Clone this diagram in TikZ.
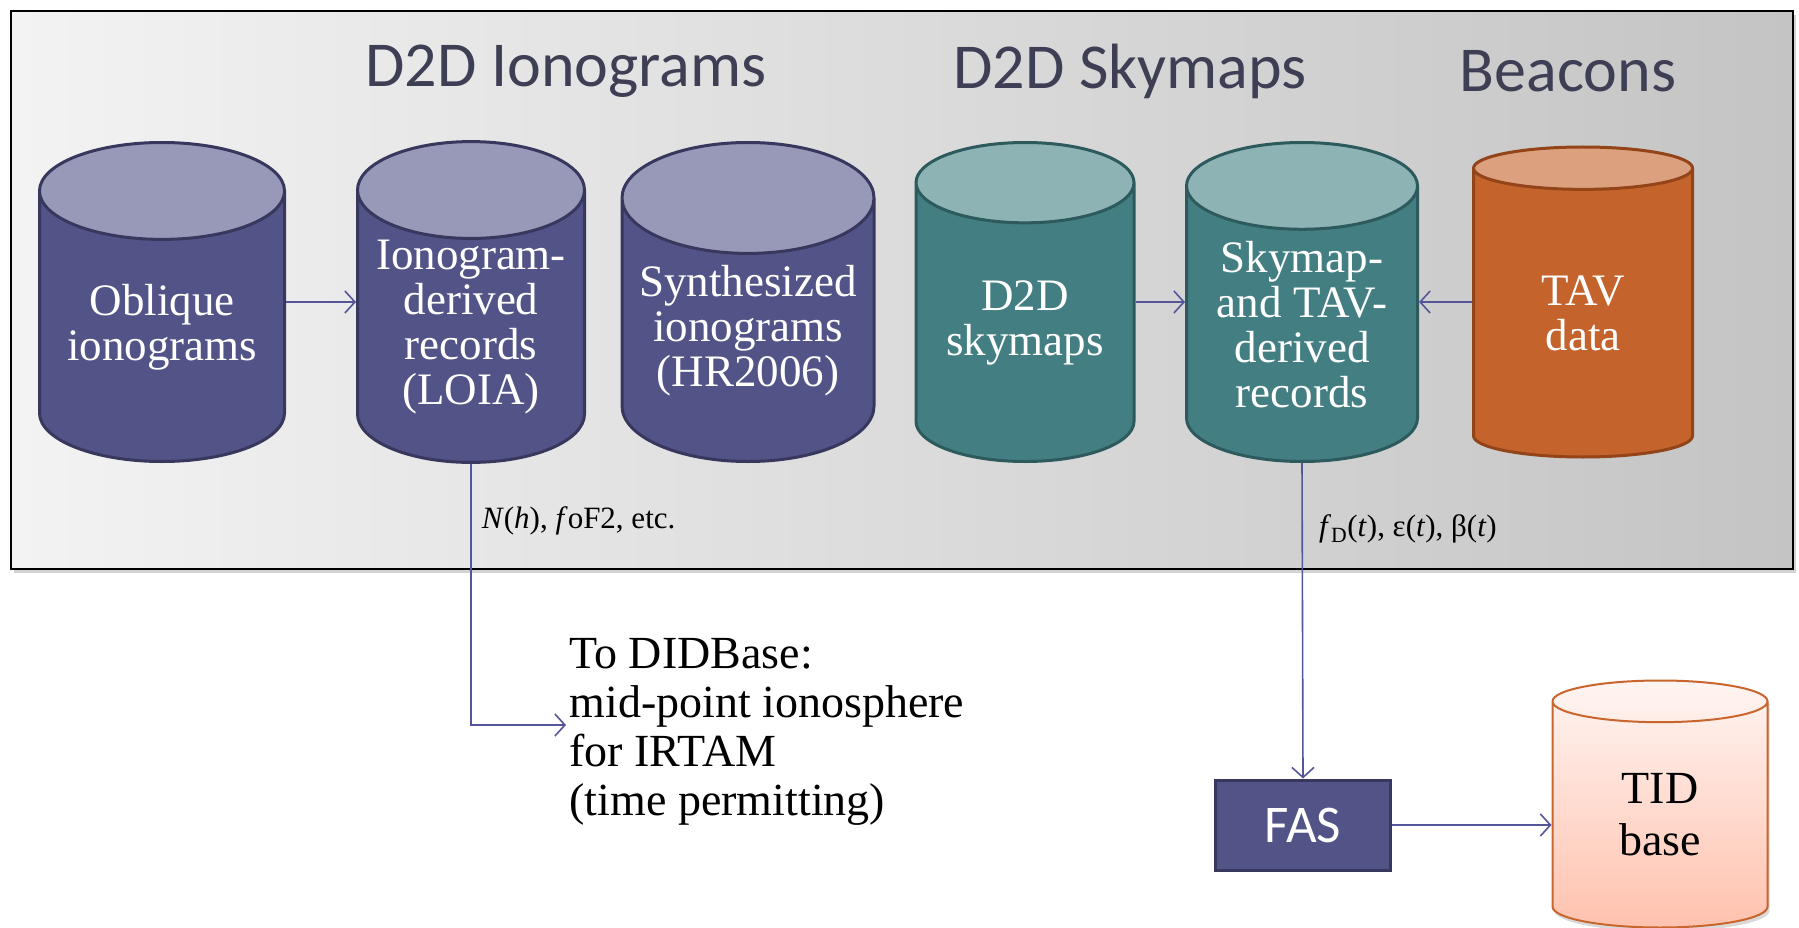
\documentclass[tikz,border=0pt]{standalone}
\usepackage{fontspec}
\setmainfont{Liberation Serif}
\newfontfamily\ttlfont{Carlito}
\usepackage{tikz}
\usetikzlibrary{arrows.meta,positioning,shapes.geometric,shadows}
\definecolor{pnlL}{HTML}{F3F3F3}
\definecolor{pnlR}{HTML}{C4C4C4}
\definecolor{ttlclr}{HTML}{3E3E54}
\definecolor{purpbody}{HTML}{525387}
\definecolor{purptop}{HTML}{9898B8}
\definecolor{purpline}{HTML}{38385E}
\definecolor{tealbody}{HTML}{437E82}
\definecolor{tealtop}{HTML}{8EB3B5}
\definecolor{tealline}{HTML}{2D5A5D}
\definecolor{orngbody}{HTML}{C4632C}
\definecolor{orngtop}{HTML}{DDA07F}
\definecolor{orngline}{HTML}{934419}
\definecolor{tidtop}{HTML}{FFF5F2}
\definecolor{tidbot}{HTML}{FFC2AE}
\definecolor{tidline}{HTML}{C9662E}
\definecolor{arrclr}{HTML}{55559A}

\begin{document}
\begin{tikzpicture}[
  x=1pt,y=-1pt,
  panel/.style={draw=black,line width=2pt,left color=pnlL,right color=pnlR,
    minimum width=1782pt,minimum height=557pt,inner sep=0pt,
    drop shadow={shadow xshift=3pt,shadow yshift=-4pt,opacity=.35}},
  ttl/.style={font=\ttlfont\fontsize{64}{70}\selectfont,text=ttlclr},
  db/.style={cylinder,shape border rotate=90,aspect=0.51,line width=3pt,
    cylinder uses custom fill,minimum height=319pt,inner sep=0pt,anchor=shape center,
    text=white,align=center,font=\fontsize{45}{45}\selectfont},
  purp/.style={db,draw=purpline,cylinder body fill=purpbody,cylinder end fill=purptop},
  teal/.style={db,draw=tealline,cylinder body fill=tealbody,cylinder end fill=tealtop},
  orng/.style={db,draw=orngline,cylinder body fill=orngbody,cylinder end fill=orngtop},
  arr/.style={draw=arrclr,line width=1.6pt,-{Straight Barb[length=10pt,width=22pt]}},
  lbl/.style={font=\fontsize{31}{33}\selectfont,inner sep=2pt}
]
\useasboundingbox (0,0) rectangle (1799,928);

% grey panel
\node[panel] (pnl) at (902,290) {};
\node[ttl] (t1) at (566,71) {D2D Ionograms};
\node[ttl] (t2) at (1130,71) {D2D Skymaps};
\node[ttl] (t3) at (1568,71) {Beacons};

% data stores
\node[purp,minimum width=245pt] (obl) at (162,302) {Oblique\\ionograms};
\node[purp,minimum width=227pt] (loia) at (471,302) {Ionogram-\\derived\\records\\(LOIA)};
\node[purp,minimum width=252pt] (syn) at (748,302) {Synthesized\\ionograms\\(HR2006)};
\node[teal,minimum width=218pt] (sky) at (1025,302) {D2D\\skymaps};
\node[teal,minimum width=231pt] (rec) at (1302,302) {Skymap-\\and TAV-\\derived\\records};
\node[orng,minimum width=219pt,minimum height=310pt] (tav) at (1583,302) {TAV\\data};

% outputs
\node[align=left,anchor=west,font=\fontsize{46}{49}\selectfont] (did) at (566,732)
  {To DIDBase:\\mid-point ionosphere\\for IRTAM\\(time permitting)};
\node[draw=purpline,fill=purpbody,line width=3pt,minimum width=175pt,minimum height=90pt,
  text=white,font=\ttlfont\fontsize{53}{53}\selectfont] (fas) at (1303,825) {FAS};
\node[db,draw=tidline,line width=2pt,top color=tidtop,bottom color=tidbot,text=black,
  minimum width=215pt,minimum height=247pt,font=\fontsize{46}{52}\selectfont,
  drop shadow={shadow xshift=2pt,shadow yshift=-4pt,opacity=.3}] (tid) at (1660,804) {TID\\base};

% connectors
\draw[arr] (obl.shape center -| obl.east) -- (loia.shape center -| loia.west);
\draw[arr] (sky.shape center -| sky.east) -- (rec.shape center -| rec.west);
\draw[arr] (tav.shape center -| tav.west) -- (rec.shape center -| rec.east);
\draw[arr] (loia.south) |- node[lbl,pos=0.11,right,xshift=8pt] {\textit{N}(\textit{h}), \textit{f}oF2, etc.} (did.west |- 0,725);
\draw[arr] (rec.south) -- node[lbl,pos=0.21,right,xshift=14pt] {\textit{f}\textsubscript{D}(\textit{t}), ε(\textit{t}), β(\textit{t})} (fas.north);
\draw[arr] (fas.east) -- (fas.east -| tid.west);
\end{tikzpicture}
\end{document}
